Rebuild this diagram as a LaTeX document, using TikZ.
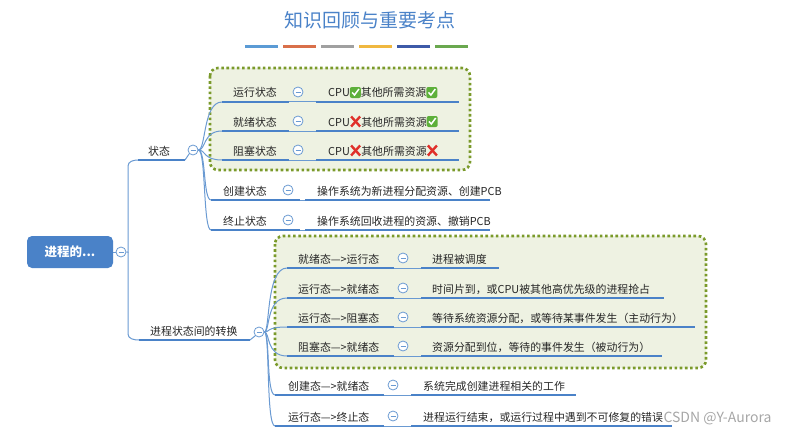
\documentclass[tikz,border=0pt]{standalone}
\usepackage{fontspec}
\setmainfont{Noto Sans CJK SC}
\definecolor{ul}{HTML}{4A82C8}
\definecolor{ln}{HTML}{6A9AD2}
\definecolor{boxfill}{HTML}{EEF2E2}
\definecolor{boxline}{HTML}{7A9A2A}
\definecolor{okg}{HTML}{5DB03A}
\definecolor{nor}{HTML}{E0302A}
\definecolor{c1}{HTML}{5B9BD5}
\definecolor{c2}{HTML}{D9704A}
\definecolor{c3}{HTML}{A0A0A0}
\definecolor{c4}{HTML}{F0B840}
\definecolor{c5}{HTML}{3D5AA8}
\definecolor{c6}{HTML}{6AA84F}
\newcommand\okmk{\tikz[baseline=-1pt,x=1pt,y=1pt]{\fill[okg,rounded corners=2pt](0,-2)rectangle(11,9);\draw[white,line width=1.5pt](2.2,3.6)--(4.6,1)--(9,7);}}
\newcommand\nomk{\tikz[baseline=-1pt,x=1pt,y=1pt]{\draw[nor,line width=2.4pt](1,-1.5)--(10,8.5)(1,8.5)--(10,-1.5);}}
\begin{document}
\begin{tikzpicture}[x=1pt,y=-1pt,
  txt/.style={inner sep=0pt,anchor=base west,font=\fontsize{10.9}{12}\selectfont,text=black!85},
  uline/.style={ul,line width=2.6pt},
  thin/.style={ln,line width=1pt},
  minus/.style={circle,draw=ln,fill=white,line width=0.8pt,minimum size=10pt,inner sep=0pt,
    path picture={\draw[ln,line width=0.8pt]([xshift=-2.5pt]path picture bounding box.center)--([xshift=2.5pt]path picture bounding box.center);}},
  grp/.style={draw=boxline,fill=boxfill,line width=2.6pt,dash pattern=on 2.6pt off 2.6pt,rounded corners=8pt},
  bar/.style={line width=3pt}]
\useasboundingbox (0,0) rectangle (788,436);
% title
\node[font=\fontsize{19}{22}\selectfont,text=ul] (title) at (370,20) {知识回顾与重要考点};
\foreach \c [count=\i] in {c1,c2,c3,c4,c5,c6}
  \draw[bar,color=\c] ({245+(\i-1)*38},47) -- ({245+(\i-1)*38+33},47);
% boxes
\draw[grp] (210,68) rectangle (470,170);
\draw[grp] (275,236) rectangle (706,368);
% root
\node[fill=ul,rounded corners=5pt,minimum width=86pt,minimum height=32pt,text=white,font=\fontsize{12.5}{14}\selectfont\bfseries] (root) at (70,252) {进程的...};
\node[minus] (rm) at (121,252) {};
\draw[thin] (root.east) -- (rm);
% level 1
\coordinate (s1) at (138,160); \coordinate (s2) at (185,160);
\coordinate (t1) at (139,340); \coordinate (t2) at (250,340);
\node[txt] (zt) at (148,155) {状态};
\node[txt] (zh) at (150,335) {进程状态间的转换};
\draw[thin] (rm.east) -- (128,252) -- (128,166) to[out=90,in=180] (s1);
\draw[thin] (128,252) -- (128,334) to[out=-90,in=180] (t1);
\draw[uline] (s1) -- (s2); \draw[uline] (t1) -- (t2);
\node[minus] (sm) at (193,150) {};
\node[minus] (tm) at (259,332) {};
\draw[thin] (s2) -- (sm.south west); \draw[thin] (t2) -- (tm.south west);
% state rows
\foreach \n/\y/\lab/\val/\ls/\le/\vs/\ve/\lx/\vx/\mx in {
  a/102/运行状态/{CPU\okmk 其他所需资源\okmk}/222/289/316/459/233/328/298,
  b/131/就绪状态/{CPU\nomk 其他所需资源\okmk}/222/289/316/459/233/328/298,
  c/160/阻塞状态/{CPU\nomk 其他所需资源\nomk}/222/289/316/459/233/328/298,
  d/200/创建状态/{操作系统为新进程分配资源、创建PCB}/211/300/305/490/223/317/288,
  e/230/终止状态/{操作系统回收进程的资源、撤销PCB}/211/300/305/490/223/317/288}{
  \coordinate (\n l1) at (\le,\y);
  \coordinate (\n v1) at (\vs,\y);
  \node[txt] (\n L) at (\lx,\y-5) {\lab};
  \node[minus] (\n m) at (\mx,\y-10) {};
  \node[txt] (\n V) at (\vx,\y-5) {\val};
  \draw[thin] (sm.east) .. controls (206,150) and (203,\y) .. (\ls,\y);
  \draw[uline] (\ls,\y) -- (\n l1);
  \draw[thin] (\n l1) -- (\n v1);
  \draw[uline] (\n v1) -- (\ve,\y);
}
% transition rows
\foreach \n/\y/\lab/\val/\ls/\le/\vs/\ve/\lx/\vx/\mx in {
  f/268/就绪态—>运行态/进程被调度/287/394/421/499/298/432/403,
  g/298/运行态—>就绪态/{时间片到，或CPU被其他高优先级的进程抢占}/287/394/421/664/298/432/403,
  h/327/运行态—>阻塞态/{等待系统资源分配，或等待某事件发生（主动行为）}/287/394/421/695/298/432/403,
  i/356/阻塞态—>就绪态/{资源分配到位，等待的事件发生（被动行为）}/287/394/421/662/298/432/403,
  j/395/创建态—>就绪态/系统完成创建进程相关的工作/275/384/411/576/288/423/393,
  k/426/运行态—>终止态/{进程运行结束，或运行过程中遇到不可修复的错误}/275/384/411/672/288/423/393}{
  \coordinate (\n l1) at (\le,\y);
  \coordinate (\n v1) at (\vs,\y);
  \node[txt] (\n L) at (\lx,\y-5) {\lab};
  \node[minus] (\n m) at (\mx,\y-10) {};
  \node[txt] (\n V) at (\vx,\y-5) {\val};
  \draw[thin] (tm.east) .. controls (270,332) and (266,\y) .. (\ls,\y);
  \draw[uline] (\ls,\y) -- (\n l1);
  \draw[thin] (\n l1) -- (\n v1);
  \draw[uline] (\n v1) -- (\ve,\y);
}
\node[font=\fontsize{14}{16}\selectfont,text=black!35,anchor=base west] (wm) at (660,422) {CSDN @Y-Aurora};
\end{tikzpicture}
\end{document}
